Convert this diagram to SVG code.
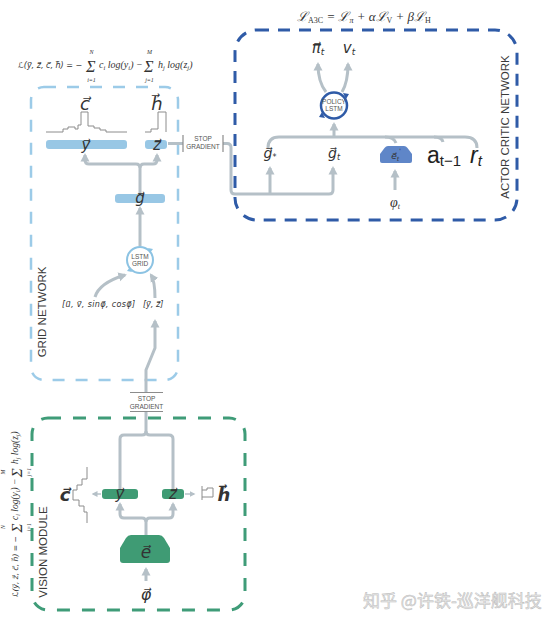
<svg xmlns="http://www.w3.org/2000/svg" width="554" height="626" viewBox="0 0 554 626">
<style>
.bg{fill:#ffffff}
.dl{fill:none;stroke:#9ccbe8;stroke-width:2.5;stroke-dasharray:12 11}
.dd{fill:none;stroke:#2f5ba7;stroke-width:3;stroke-dasharray:12 9}
.dg{fill:none;stroke:#3f9c78;stroke-width:3;stroke-dasharray:13 12}
.cn{fill:none;stroke:#b5c0c7;stroke-width:3}
.cs{fill:none;stroke:#b5c0c7;stroke-width:1.5}
.hist{fill:none;stroke:#8c8c8c;stroke-width:1}
.sg{fill:none;stroke:#8c8c8c;stroke-width:1.2}
.barb{fill:#98c7e5}
.barg{fill:#3f9b74}
.vec{font-family:"DejaVu Sans",sans-serif;font-style:italic;fill:#333}
.vecb{font-family:"DejaVu Sans",sans-serif;font-style:italic;font-weight:bold;fill:#333}
.lab{font-family:"Liberation Sans",Arial,sans-serif;fill:#3a3a3a}
.sgt{font-family:"Liberation Sans",Arial,sans-serif;font-size:6.5px;fill:#555;text-anchor:middle}
.fm{font-family:"Liberation Serif","DejaVu Serif",serif;font-style:italic;fill:#333}
.fv{font-family:"DejaVu Sans",sans-serif;font-style:italic;fill:#333}
.sans{font-family:"Liberation Sans",Arial,sans-serif;fill:#222}
</style>
<defs>
<marker id="ah" viewBox="0 0 9 10" refX="6.5" refY="5" markerWidth="9" markerHeight="10" markerUnits="userSpaceOnUse" orient="auto">
<path d="M0,0.5 L8.5,5 L0,9.5 z" fill="#b5c0c7"/>
</marker>
<marker id="ahs" viewBox="0 0 6 6" refX="4.5" refY="3" markerWidth="6" markerHeight="6" markerUnits="userSpaceOnUse" orient="auto">
<path d="M0,0 L6,3 L0,6 z" fill="#b5c0c7"/>
</marker>
</defs>
<rect class="bg" x="0" y="0" width="554" height="626"/>

<!-- Formulas -->
<g id="formula-grid">
<text class="fv" x="18" y="68" font-size="8">ℒ(y⃗, z⃗, c⃗, h⃗) = −</text>
<text class="fm" x="86" y="72" font-size="16" font-style="normal">Σ</text>
<text class="fm" x="91.5" y="54" font-size="6" text-anchor="middle">N</text>
<text class="fm" x="91.5" y="81.5" font-size="6" text-anchor="middle">i=1</text>
<text class="fm" x="99" y="68" font-size="10">c<tspan font-size="6.5" dy="2">i</tspan><tspan dy="-2"> log(y</tspan><tspan font-size="6.5" dy="2">i</tspan><tspan dy="-2">) −</tspan></text>
<text class="fm" x="144" y="72" font-size="16" font-style="normal">Σ</text>
<text class="fm" x="149.5" y="54" font-size="6" text-anchor="middle">M</text>
<text class="fm" x="149.5" y="81.5" font-size="6" text-anchor="middle">j=1</text>
<text class="fm" x="158" y="68" font-size="10">h<tspan font-size="6.5" dy="2">j</tspan><tspan dy="-2"> log(z</tspan><tspan font-size="6.5" dy="2">j</tspan><tspan dy="-2">)</tspan></text>
</g>
<g id="formula-a3c">
<text class="fm" x="297" y="21" font-size="13">ℒ<tspan font-size="8" dy="2" font-style="normal">A3C</tspan><tspan dy="-2"> = ℒ</tspan><tspan font-size="8" dy="2">π</tspan><tspan dy="-2"> + αℒ</tspan><tspan font-size="8" dy="2" font-style="normal">V</tspan><tspan dy="-2"> + βℒ</tspan><tspan font-size="8" dy="2" font-style="normal">H</tspan></text>
</g>
<g id="formula-vision" transform="translate(18,597) rotate(-90) scale(0.95) translate(-18,-68)">
<text class="fv" x="18" y="68" font-size="8">ℒ(y⃗, z⃗, c⃗, h⃗) = −</text>
<text class="fm" x="86" y="72" font-size="16" font-style="normal">Σ</text>
<text class="fm" x="91.5" y="54" font-size="6" text-anchor="middle">N</text>
<text class="fm" x="91.5" y="81.5" font-size="6" text-anchor="middle">i=1</text>
<text class="fm" x="99" y="68" font-size="10">c<tspan font-size="6.5" dy="2">i</tspan><tspan dy="-2"> log(y</tspan><tspan font-size="6.5" dy="2">i</tspan><tspan dy="-2">) −</tspan></text>
<text class="fm" x="144" y="72" font-size="16" font-style="normal">Σ</text>
<text class="fm" x="149.5" y="54" font-size="6" text-anchor="middle">M</text>
<text class="fm" x="149.5" y="81.5" font-size="6" text-anchor="middle">j=1</text>
<text class="fm" x="158" y="68" font-size="10">h<tspan font-size="6.5" dy="2">j</tspan><tspan dy="-2"> log(z</tspan><tspan font-size="6.5" dy="2">j</tspan><tspan dy="-2">)</tspan></text>
</g>

<!-- Module boxes -->
<g id="grid-network">
<rect class="dl" x="31" y="87" width="147" height="293" rx="13"/>
<text class="lab" font-size="11.5" transform="translate(46,312) rotate(-90)" text-anchor="middle">GRID NETWORK</text>
</g>
<g id="actor-critic-network">
<rect class="dd" x="235" y="30" width="282" height="190" rx="22"/>
<text class="lab" font-size="11.5" transform="translate(509,127) rotate(-90)" text-anchor="middle">ACTOR CRITIC NETWORK</text>
</g>
<g id="vision-module">
<rect class="dg" x="32" y="418" width="213" height="192" rx="16"/>
<text class="lab" font-size="11.5" transform="translate(47,552) rotate(-90)" text-anchor="middle">VISION MODULE</text>
</g>

<!-- Connectors -->
<g id="connectors">
<path class="cn" d="M140,194 V168 Q140,164 136,164 H89 Q85,164 85,160 V155" marker-end="url(#ah)"/>
<path class="cn" d="M140,168 Q140,164 144,164 H153 Q157,164 157,160 V155" marker-end="url(#ah)"/>
<path class="cn" d="M140,246 V208" marker-end="url(#ah)"/>
<path class="cn" d="M95,297 Q99,283 125,275" marker-end="url(#ah)"/>
<path class="cn" d="M155,298 Q155,281 151,275" marker-end="url(#ah)"/>
<path class="cn" d="M146,392 V370 L155,348 V321" marker-end="url(#ah)"/>
<path class="cn" d="M146,412 V431 Q146,435 142,435 H124 Q120,435 120,439 V489"/>
<path class="cn" d="M146,431 Q146,435 150,435 H169 Q173,435 173,439 V489"/>
<path class="cn" d="M146,535 V522 Q146,518 142,518 H124 Q120,518 120,514 V504" marker-end="url(#ah)"/>
<path class="cn" d="M146,522 Q146,518 150,518 H169 Q173,518 173,514 V504" marker-end="url(#ah)"/>
<path class="cn" d="M146,581 V569" marker-end="url(#ah)"/>
<path class="cs" d="M101,494 H93" marker-end="url(#ahs)"/>
<path class="cs" d="M185,494 H194" marker-end="url(#ahs)"/>
<path class="cn" d="M168,143.5 H183"/>
<path class="cn" d="M223,143.5 H227 Q231,143.5 231,147.5 V190 Q231,194 235,194 H329 Q333,194 333,190 V168" marker-end="url(#ah)"/>
<path class="cn" d="M270,194 V168" marker-end="url(#ah)"/>
<path class="cn" d="M268,148 Q268,137 279,137 H465 Q477,137 477,148"/>
<path class="cn" d="M385,137 Q394,137 396,143"/>
<path class="cn" d="M434,137 Q442,137 443,142"/>
<path class="cn" d="M334,137 V124" marker-end="url(#ah)"/>
<path class="cn" d="M326,92 Q318,82 318,64" marker-end="url(#ah)"/>
<path class="cn" d="M342,92 Q348,82 348,64" marker-end="url(#ah)"/>
<path class="cn" d="M395,190 V171" marker-end="url(#ah)"/>
</g>

<!-- Stop gradients -->
<g id="stop-gradient-top">
<path class="sg" d="M183,135 V152 M223,135 V152"/>
<text class="sgt" x="203" y="141">STOP</text>
<text class="sgt" x="203" y="148.5">GRADIENT</text>
</g>
<g id="stop-gradient-bottom">
<path class="sg" d="M130,392.5 H163 M130,411.5 H163"/>
<text class="sgt" x="146.5" y="401">STOP</text>
<text class="sgt" x="146.5" y="408.5">GRADIENT</text>
</g>

<!-- Grid network nodes -->
<g id="grid-c">
<path class="hist" d="M46,132 H63 V129 H68 V127 H75 V129 H78 V125 H81 V112 H88 V126 H94 V128 H100 V130 H106 V132 H127"/>
<text class="vec" x="85" y="110" font-size="18" text-anchor="middle">c⃗</text>
</g>
<g id="grid-h">
<path class="hist" d="M145,132 H151 V129 H158 V112 H166 V132"/>
<text class="vec" x="157" y="110" font-size="18" text-anchor="middle">h⃗</text>
</g>
<g id="grid-y">
<rect class="barb" x="46" y="140" width="81" height="9" rx="3"/>
<text class="vec" x="86" y="150" font-size="15" text-anchor="middle">y⃗</text>
</g>
<g id="grid-z">
<rect class="barb" x="145" y="140" width="22" height="9" rx="3"/>
<text class="vec" x="157" y="150" font-size="15" text-anchor="middle">z⃗</text>
</g>
<g id="grid-g">
<rect class="barb" x="115" y="194" width="50" height="9" rx="3"/>
<text class="vec" x="140" y="203" font-size="15" text-anchor="middle">g⃗</text>
</g>
<g id="lstm-grid">
<circle cx="140" cy="260" r="13" fill="#fff" stroke="#8cc3e3" stroke-width="2"/>
<path d="M148,248 l5,1 l-3,4 z M132,272 l-5,-1 l3,-4 z" fill="#8cc3e3"/>
<text class="sgt" x="140" y="258.5" font-size="5.5">LSTM</text>
<text class="sgt" x="140" y="265.5" font-size="5.5">GRID</text>
</g>
<g id="grid-inputs">
<text class="vec" x="62" y="307" font-size="8" textLength="73" lengthAdjust="spacing" fill="#555">[u⃗, v⃗, sinφ⃗, cosφ⃗]</text>
</g>
<g id="grid-yz-input">
<text class="vec" x="143" y="307" font-size="8" fill="#555">[y⃗, z⃗]</text>
</g>

<!-- Vision module nodes -->
<g id="vision-y">
<rect class="barg" x="102" y="489" width="36" height="10" rx="3"/>
<text class="vec" x="120" y="499" font-size="15" text-anchor="middle">y⃗</text>
</g>
<g id="vision-z">
<rect class="barg" x="162" y="489" width="22" height="10" rx="3"/>
<text class="vec" x="173" y="499" font-size="15" text-anchor="middle">z⃗</text>
</g>
<g id="vision-c">
<path class="hist" d="M87,467 V479 H82 V485 H77 V490 H73 V500 H79 V506 H84 V512 H87 V523"/>
<text class="vecb" x="65" y="501" font-size="18" text-anchor="middle">c⃗</text>
</g>
<g id="vision-h">
<path class="hist" d="M202,486 V500 M202,490 H207 V488 H213 V497 H202"/>
<text class="vecb" x="224" y="501" font-size="18" text-anchor="middle">h⃗</text>
</g>
<g id="vision-e">
<path d="M131,535 H159 Q162,535 164,538 L170,548 V560 Q170,563 167,563 H123 Q120,563 120,560 V548 L126,538 Q128,535 131,535 Z" fill="#3f9b74"/>
<text class="vec" x="146" y="558" font-size="17" text-anchor="middle">e⃗</text>
</g>
<g id="vision-phi">
<text class="vec" x="146" y="600" font-size="16" text-anchor="middle">φ⃗</text>
</g>

<!-- Actor critic nodes -->
<g id="policy-lstm">
<circle cx="334" cy="105.5" r="13" fill="#fff" stroke="#2f5ba7" stroke-width="2.5"/>
<path d="M343,93 l6,1 l-3,5 z M325,118 l-6,-1 l3,-5 z" fill="#2f5ba7"/>
<text class="sgt" x="334" y="104" font-size="4.6" fill="#333">POLICY</text>
<text class="sgt" x="334" y="110.5" font-size="4.6" fill="#333">LSTM</text>
</g>
<g id="pi-t">
<text class="vec" x="318" y="53" font-size="15" text-anchor="middle">π⃗<tspan font-size="9" dy="2">t</tspan></text>
</g>
<g id="v-t">
<text class="vec" x="349" y="53" font-size="15" text-anchor="middle">v<tspan font-size="9" dy="2">t</tspan></text>
</g>
<g id="g-star">
<text class="vec" x="270" y="158" font-size="14" text-anchor="middle">g⃗<tspan font-size="8" dy="2">*</tspan></text>
</g>
<g id="g-t">
<text class="vec" x="334" y="158" font-size="14" text-anchor="middle">g⃗<tspan font-size="8" dy="2">t</tspan></text>
</g>
<g id="e-t">
<path d="M388,146 H404 Q406,146 407.5,148 L412,154 V161 Q412,163 410,163 H382 Q380,163 380,161 V154 L384.5,148 Q386,146 388,146 Z" fill="#5f86c8"/>
<text class="vec" x="396" y="159" font-size="9" text-anchor="middle">e⃗<tspan font-size="6" dy="2">t</tspan><tspan font-size="6" dy="-8">'</tspan></text>
</g>
<g id="a-t1">
<text class="sans" x="427" y="163" font-size="23">a<tspan font-size="15" dy="3">t−1</tspan></text>
</g>
<g id="r-t">
<text class="sans" x="470" y="163" font-size="23" font-style="italic">r<tspan font-size="15" dy="3">t</tspan></text>
</g>
<g id="phi-t">
<text class="fm" x="395" y="207" font-size="14" text-anchor="middle">φ<tspan font-size="8" dy="2">t</tspan></text>
</g>

<!-- Watermark -->
<text x="363" y="607" font-family="Noto Sans CJK SC, sans-serif" font-size="17" fill="#e8e8e8" stroke="#bcbcbc" stroke-width="0.5">知乎 @许铁-巡洋舰科技</text>
</svg>
